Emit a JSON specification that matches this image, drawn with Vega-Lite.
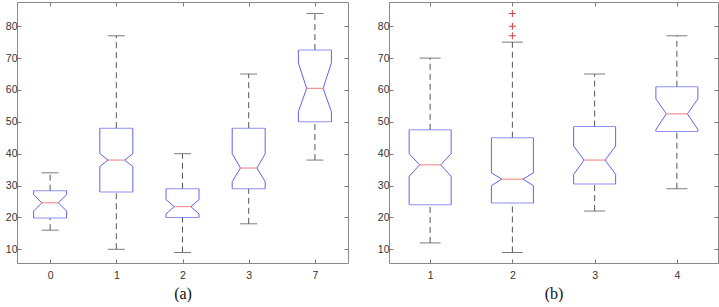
{
  "$schema": "https://vega.github.io/schema/vega-lite/v6.json",
  "padding": {"left": 0, "top": 1, "right": 0, "bottom": 0},
  "background": "white",
  "spacing": 41,
  "bounds": "flush",
  "config": {
    "view": {"stroke": "#8a8a8a", "strokeWidth": 1},
    "axis": {"domain": false, "grid": false, "tickColor": "#7a7a7a", "tickSize": -4, "labelFont": "Liberation Sans", "labelFontSize": 10.5, "labelColor": "#333333", "titleFont": "Liberation Serif", "titleFontSize": 16, "titleFontWeight": "normal", "titleColor": "#111111"}
  },
  "datasets": {
    "a": [
      {"cat": "0", "lw": 16, "q1": 19.8, "nlo": 22, "med": 24.6, "nhi": 27.1, "q3": 28.4, "uw": 34},
      {"cat": "1", "lw": 10, "q1": 28, "nlo": 36, "med": 38, "nhi": 40, "q3": 48, "uw": 77},
      {"cat": "2", "lw": 9, "q1": 20, "nlo": 21.1, "med": 23.4, "nhi": 25.6, "q3": 29, "uw": 40},
      {"cat": "3", "lw": 18, "q1": 29, "nlo": 31.2, "med": 35.5, "nhi": 40, "q3": 48, "uw": 65},
      {"cat": "7", "lw": 38, "q1": 50, "nlo": 53.2, "med": 60.5, "nhi": 68.5, "q3": 72.5, "uw": 84}
    ],
    "b": [
      {"cat": "1", "lw": 12, "q1": 24, "nlo": 32.9, "med": 36.5, "nhi": 40, "q3": 47.5, "uw": 70},
      {"cat": "2", "lw": 9, "q1": 24.5, "nlo": 30, "med": 32, "nhi": 34, "q3": 45, "uw": 75},
      {"cat": "3", "lw": 22, "q1": 30.5, "nlo": 33.5, "med": 38, "nhi": 42.4, "q3": 48.5, "uw": 65},
      {"cat": "4", "lw": 29, "q1": 47, "nlo": 47.6, "med": 52.5, "nhi": 57.2, "q3": 61, "uw": 77}
    ],
    "outB": [
      {"cat": "2", "v": 84},
      {"cat": "2", "v": 80},
      {"cat": "2", "v": 77}
    ]
  },
  "hconcat": [
    {
      "width": 331, "height": 261,
      "data": {"name": "a"},
      "resolve": {"axis": {"x": "independent", "y": "independent"}},
      "layer": [
        {"mark": {"type": "rule", "color": "#555555", "strokeDash": [6, 4]},
         "encoding": {
           "x": {"field": "cat", "type": "ordinal", "sort": null, "scale": {"type": "point", "padding": 0.5, "domain": ["0","1","2","3","7"]}, "axis": {"orient": "bottom", "title": "(a)", "labelAngle": 0, "labelPadding": 11, "titlePadding": 5}},
           "y": {"field": "q3", "type": "quantitative", "scale": {"domain": [5.7, 87.6], "nice": false, "zero": false}, "axis": {"orient": "left", "title": null, "values": [10,20,30,40,50,60,70,80], "labelPadding": 4, "minExtent": 16, "maxExtent": 16}},
           "y2": {"field": "uw"}}},
        {"mark": {"type": "rule", "color": "#555555", "strokeDash": [6, 4]},
         "encoding": {
           "x": {"field": "cat", "type": "ordinal", "sort": null, "scale": {"type": "point", "padding": 0.5, "domain": ["0","1","2","3","7"]}, "axis": {"orient": "top", "title": null, "labels": false}},
           "y": {"field": "lw", "type": "quantitative", "scale": {"domain": [5.7, 87.6], "nice": false, "zero": false}, "axis": {"orient": "right", "title": null, "labels": false, "values": [10,20,30,40,50,60,70,80]}},
           "y2": {"field": "q1"}}},
        {"mark": {"type": "tick", "color": "#444444", "size": 17, "thickness": 1},
         "encoding": {"x": {"field": "cat", "type": "ordinal", "sort": null, "scale": {"type": "point", "padding": 0.5, "domain": ["0","1","2","3","7"]}, "axis": null},
           "y": {"field": "uw", "type": "quantitative", "scale": {"domain": [5.7, 87.6], "nice": false, "zero": false}, "axis": null}}},
        {"mark": {"type": "tick", "color": "#444444", "size": 17, "thickness": 1},
         "encoding": {"x": {"field": "cat", "type": "ordinal", "sort": null, "scale": {"type": "point", "padding": 0.5, "domain": ["0","1","2","3","7"]}, "axis": null},
           "y": {"field": "lw", "type": "quantitative", "scale": {"domain": [5.7, 87.6], "nice": false, "zero": false}, "axis": null}}},
        {"mark": {"type": "tick", "color": "#6262f0", "size": 33, "thickness": 1},
         "encoding": {"x": {"field": "cat", "type": "ordinal", "sort": null, "scale": {"type": "point", "padding": 0.5, "domain": ["0","1","2","3","7"]}, "axis": null},
           "y": {"field": "q3", "type": "quantitative", "scale": {"domain": [5.7, 87.6], "nice": false, "zero": false}, "axis": null}}},
        {"mark": {"type": "tick", "color": "#6262f0", "size": 33, "thickness": 1},
         "encoding": {"x": {"field": "cat", "type": "ordinal", "sort": null, "scale": {"type": "point", "padding": 0.5, "domain": ["0","1","2","3","7"]}, "axis": null},
           "y": {"field": "q1", "type": "quantitative", "scale": {"domain": [5.7, 87.6], "nice": false, "zero": false}, "axis": null}}},
        {"mark": {"type": "rule", "color": "#6262f0", "xOffset": -16.5},
         "encoding": {"x": {"field": "cat", "type": "ordinal", "sort": null, "scale": {"type": "point", "padding": 0.5, "domain": ["0","1","2","3","7"]}, "axis": null},
           "y": {"field": "q3", "type": "quantitative", "scale": {"domain": [5.7, 87.6], "nice": false, "zero": false}, "axis": null}, "y2": {"field": "nhi"}}},
        {"mark": {"type": "rule", "color": "#6262f0", "xOffset": 16.5},
         "encoding": {"x": {"field": "cat", "type": "ordinal", "sort": null, "scale": {"type": "point", "padding": 0.5, "domain": ["0","1","2","3","7"]}, "axis": null},
           "y": {"field": "q3", "type": "quantitative", "scale": {"domain": [5.7, 87.6], "nice": false, "zero": false}, "axis": null}, "y2": {"field": "nhi"}}},
        {"mark": {"type": "rule", "color": "#6262f0", "xOffset": -16.5},
         "encoding": {"x": {"field": "cat", "type": "ordinal", "sort": null, "scale": {"type": "point", "padding": 0.5, "domain": ["0","1","2","3","7"]}, "axis": null},
           "y": {"field": "q1", "type": "quantitative", "scale": {"domain": [5.7, 87.6], "nice": false, "zero": false}, "axis": null}, "y2": {"field": "nlo"}}},
        {"mark": {"type": "rule", "color": "#6262f0", "xOffset": 16.5},
         "encoding": {"x": {"field": "cat", "type": "ordinal", "sort": null, "scale": {"type": "point", "padding": 0.5, "domain": ["0","1","2","3","7"]}, "axis": null},
           "y": {"field": "q1", "type": "quantitative", "scale": {"domain": [5.7, 87.6], "nice": false, "zero": false}, "axis": null}, "y2": {"field": "nlo"}}},
        {"mark": {"type": "rule", "color": "#6262f0", "xOffset": -16.5, "x2Offset": -8.25},
         "encoding": {"x": {"field": "cat", "type": "ordinal", "sort": null, "scale": {"type": "point", "padding": 0.5, "domain": ["0","1","2","3","7"]}, "axis": null}, "x2": {"field": "cat"},
           "y": {"field": "nhi", "type": "quantitative", "scale": {"domain": [5.7, 87.6], "nice": false, "zero": false}, "axis": null}, "y2": {"field": "med"}}},
        {"mark": {"type": "rule", "color": "#6262f0", "xOffset": 16.5, "x2Offset": 8.25},
         "encoding": {"x": {"field": "cat", "type": "ordinal", "sort": null, "scale": {"type": "point", "padding": 0.5, "domain": ["0","1","2","3","7"]}, "axis": null}, "x2": {"field": "cat"},
           "y": {"field": "nhi", "type": "quantitative", "scale": {"domain": [5.7, 87.6], "nice": false, "zero": false}, "axis": null}, "y2": {"field": "med"}}},
        {"mark": {"type": "rule", "color": "#6262f0", "xOffset": -16.5, "x2Offset": -8.25},
         "encoding": {"x": {"field": "cat", "type": "ordinal", "sort": null, "scale": {"type": "point", "padding": 0.5, "domain": ["0","1","2","3","7"]}, "axis": null}, "x2": {"field": "cat"},
           "y": {"field": "nlo", "type": "quantitative", "scale": {"domain": [5.7, 87.6], "nice": false, "zero": false}, "axis": null}, "y2": {"field": "med"}}},
        {"mark": {"type": "rule", "color": "#6262f0", "xOffset": 16.5, "x2Offset": 8.25},
         "encoding": {"x": {"field": "cat", "type": "ordinal", "sort": null, "scale": {"type": "point", "padding": 0.5, "domain": ["0","1","2","3","7"]}, "axis": null}, "x2": {"field": "cat"},
           "y": {"field": "nlo", "type": "quantitative", "scale": {"domain": [5.7, 87.6], "nice": false, "zero": false}, "axis": null}, "y2": {"field": "med"}}},
        {"mark": {"type": "tick", "color": "#f06262", "size": 16.5, "thickness": 1.2},
         "encoding": {"x": {"field": "cat", "type": "ordinal", "sort": null, "scale": {"type": "point", "padding": 0.5, "domain": ["0","1","2","3","7"]}, "axis": null},
           "y": {"field": "med", "type": "quantitative", "scale": {"domain": [5.7, 87.6], "nice": false, "zero": false}, "axis": null}}}
      ]
    },
    {
      "width": 329, "height": 261,
      "data": {"name": "b"},
      "resolve": {"axis": {"x": "independent", "y": "independent"}},
      "layer": [
        {"mark": {"type": "rule", "color": "#555555", "strokeDash": [6, 4]},
         "encoding": {
           "x": {"field": "cat", "type": "ordinal", "sort": null, "scale": {"type": "point", "padding": 0.5, "domain": ["1","2","3","4"]}, "axis": {"orient": "bottom", "title": "(b)", "labelAngle": 0, "labelPadding": 11, "titlePadding": 5}},
           "y": {"field": "q3", "type": "quantitative", "scale": {"domain": [5.7, 87.6], "nice": false, "zero": false}, "axis": {"orient": "left", "title": null, "values": [10,20,30,40,50,60,70,80], "labelPadding": 4}},
           "y2": {"field": "uw"}}},
        {"mark": {"type": "rule", "color": "#555555", "strokeDash": [6, 4]},
         "encoding": {
           "x": {"field": "cat", "type": "ordinal", "sort": null, "scale": {"type": "point", "padding": 0.5, "domain": ["1","2","3","4"]}, "axis": {"orient": "top", "title": null, "labels": false}},
           "y": {"field": "lw", "type": "quantitative", "scale": {"domain": [5.7, 87.6], "nice": false, "zero": false}, "axis": {"orient": "right", "title": null, "labels": false, "values": [10,20,30,40,50,60,70,80]}},
           "y2": {"field": "q1"}}},
        {"mark": {"type": "tick", "color": "#444444", "size": 21, "thickness": 1},
         "encoding": {"x": {"field": "cat", "type": "ordinal", "sort": null, "scale": {"type": "point", "padding": 0.5, "domain": ["1","2","3","4"]}, "axis": null},
           "y": {"field": "uw", "type": "quantitative", "scale": {"domain": [5.7, 87.6], "nice": false, "zero": false}, "axis": null}}},
        {"mark": {"type": "tick", "color": "#444444", "size": 21, "thickness": 1},
         "encoding": {"x": {"field": "cat", "type": "ordinal", "sort": null, "scale": {"type": "point", "padding": 0.5, "domain": ["1","2","3","4"]}, "axis": null},
           "y": {"field": "lw", "type": "quantitative", "scale": {"domain": [5.7, 87.6], "nice": false, "zero": false}, "axis": null}}},
        {"mark": {"type": "tick", "color": "#6262f0", "size": 42, "thickness": 1},
         "encoding": {"x": {"field": "cat", "type": "ordinal", "sort": null, "scale": {"type": "point", "padding": 0.5, "domain": ["1","2","3","4"]}, "axis": null},
           "y": {"field": "q3", "type": "quantitative", "scale": {"domain": [5.7, 87.6], "nice": false, "zero": false}, "axis": null}}},
        {"mark": {"type": "tick", "color": "#6262f0", "size": 42, "thickness": 1},
         "encoding": {"x": {"field": "cat", "type": "ordinal", "sort": null, "scale": {"type": "point", "padding": 0.5, "domain": ["1","2","3","4"]}, "axis": null},
           "y": {"field": "q1", "type": "quantitative", "scale": {"domain": [5.7, 87.6], "nice": false, "zero": false}, "axis": null}}},
        {"mark": {"type": "rule", "color": "#6262f0", "xOffset": -21},
         "encoding": {"x": {"field": "cat", "type": "ordinal", "sort": null, "scale": {"type": "point", "padding": 0.5, "domain": ["1","2","3","4"]}, "axis": null},
           "y": {"field": "q3", "type": "quantitative", "scale": {"domain": [5.7, 87.6], "nice": false, "zero": false}, "axis": null}, "y2": {"field": "nhi"}}},
        {"mark": {"type": "rule", "color": "#6262f0", "xOffset": 21},
         "encoding": {"x": {"field": "cat", "type": "ordinal", "sort": null, "scale": {"type": "point", "padding": 0.5, "domain": ["1","2","3","4"]}, "axis": null},
           "y": {"field": "q3", "type": "quantitative", "scale": {"domain": [5.7, 87.6], "nice": false, "zero": false}, "axis": null}, "y2": {"field": "nhi"}}},
        {"mark": {"type": "rule", "color": "#6262f0", "xOffset": -21},
         "encoding": {"x": {"field": "cat", "type": "ordinal", "sort": null, "scale": {"type": "point", "padding": 0.5, "domain": ["1","2","3","4"]}, "axis": null},
           "y": {"field": "q1", "type": "quantitative", "scale": {"domain": [5.7, 87.6], "nice": false, "zero": false}, "axis": null}, "y2": {"field": "nlo"}}},
        {"mark": {"type": "rule", "color": "#6262f0", "xOffset": 21},
         "encoding": {"x": {"field": "cat", "type": "ordinal", "sort": null, "scale": {"type": "point", "padding": 0.5, "domain": ["1","2","3","4"]}, "axis": null},
           "y": {"field": "q1", "type": "quantitative", "scale": {"domain": [5.7, 87.6], "nice": false, "zero": false}, "axis": null}, "y2": {"field": "nlo"}}},
        {"mark": {"type": "rule", "color": "#6262f0", "xOffset": -21, "x2Offset": -10.5},
         "encoding": {"x": {"field": "cat", "type": "ordinal", "sort": null, "scale": {"type": "point", "padding": 0.5, "domain": ["1","2","3","4"]}, "axis": null}, "x2": {"field": "cat"},
           "y": {"field": "nhi", "type": "quantitative", "scale": {"domain": [5.7, 87.6], "nice": false, "zero": false}, "axis": null}, "y2": {"field": "med"}}},
        {"mark": {"type": "rule", "color": "#6262f0", "xOffset": 21, "x2Offset": 10.5},
         "encoding": {"x": {"field": "cat", "type": "ordinal", "sort": null, "scale": {"type": "point", "padding": 0.5, "domain": ["1","2","3","4"]}, "axis": null}, "x2": {"field": "cat"},
           "y": {"field": "nhi", "type": "quantitative", "scale": {"domain": [5.7, 87.6], "nice": false, "zero": false}, "axis": null}, "y2": {"field": "med"}}},
        {"mark": {"type": "rule", "color": "#6262f0", "xOffset": -21, "x2Offset": -10.5},
         "encoding": {"x": {"field": "cat", "type": "ordinal", "sort": null, "scale": {"type": "point", "padding": 0.5, "domain": ["1","2","3","4"]}, "axis": null}, "x2": {"field": "cat"},
           "y": {"field": "nlo", "type": "quantitative", "scale": {"domain": [5.7, 87.6], "nice": false, "zero": false}, "axis": null}, "y2": {"field": "med"}}},
        {"mark": {"type": "rule", "color": "#6262f0", "xOffset": 21, "x2Offset": 10.5},
         "encoding": {"x": {"field": "cat", "type": "ordinal", "sort": null, "scale": {"type": "point", "padding": 0.5, "domain": ["1","2","3","4"]}, "axis": null}, "x2": {"field": "cat"},
           "y": {"field": "nlo", "type": "quantitative", "scale": {"domain": [5.7, 87.6], "nice": false, "zero": false}, "axis": null}, "y2": {"field": "med"}}},
        {"mark": {"type": "tick", "color": "#f06262", "size": 21, "thickness": 1.2},
         "encoding": {"x": {"field": "cat", "type": "ordinal", "sort": null, "scale": {"type": "point", "padding": 0.5, "domain": ["1","2","3","4"]}, "axis": null},
           "y": {"field": "med", "type": "quantitative", "scale": {"domain": [5.7, 87.6], "nice": false, "zero": false}, "axis": null}}},
        {"data": {"name": "outB"},
         "mark": {"type": "point", "shape": "M-1,0L1,0M0,-1L0,1", "filled": false, "color": "#e03c3c", "size": 49, "strokeWidth": 1, "opacity": 1},
         "encoding": {"x": {"field": "cat", "type": "ordinal", "sort": null, "scale": {"type": "point", "padding": 0.5, "domain": ["1","2","3","4"]}, "axis": null},
           "y": {"field": "v", "type": "quantitative", "scale": {"domain": [5.7, 87.6], "nice": false, "zero": false}, "axis": null}}}
      ]
    }
  ]
}
